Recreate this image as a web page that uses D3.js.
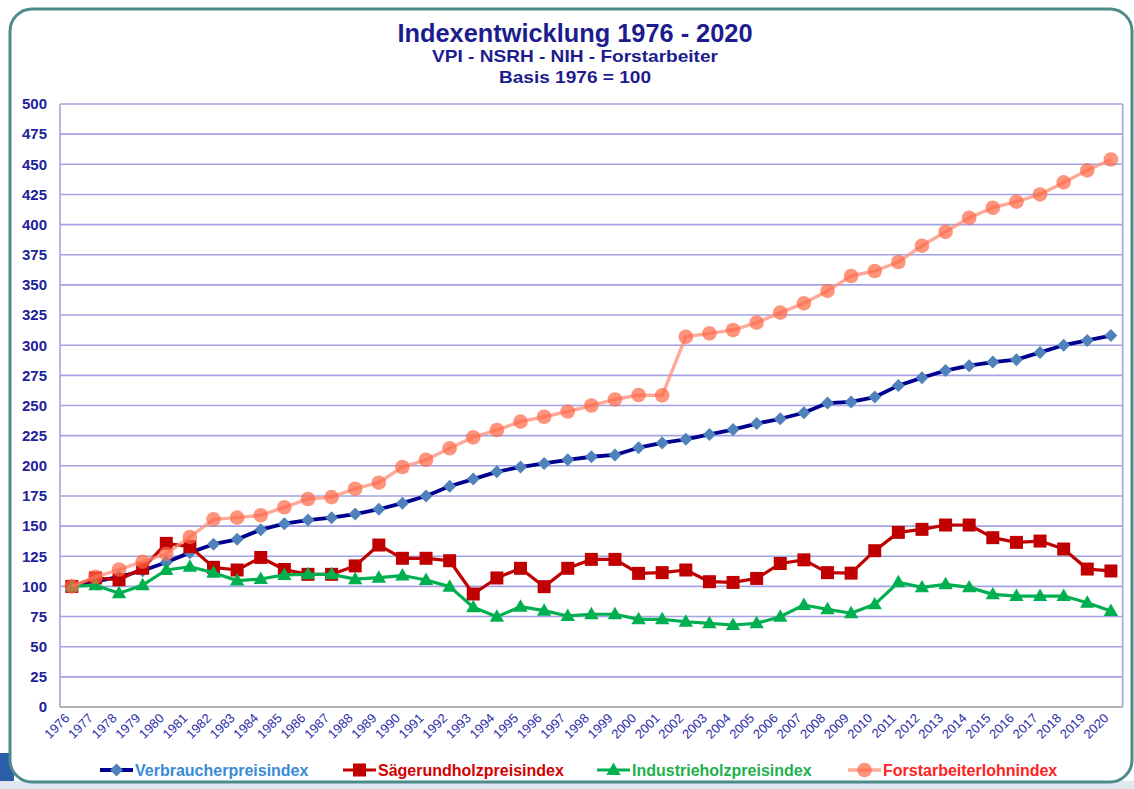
<!DOCTYPE html>
<html><head><meta charset="utf-8">
<script src="https://cdn.jsdelivr.net/npm/d3@7"></script>
<style>
html,body{margin:0;padding:0;background:#fff;}
svg{display:block;}
</style></head>
<body>
<script>
const years = d3.range(1976, 2021).map(String);
const vpi = [100,104,108,113,120,128,135,139,147,152,155,157,160,164,169,175,183,189,195,199,202,205,207.5,209,215,219,222,226,230,235,239,244,252,253,257,266.5,273,279,283,286,288,294,300,304,308];
const saege = [100,107,105.5,115,135.7,133,115.8,113.6,124,114,110,110,117,134.3,123.3,123.3,121.3,93.7,107,115,99.8,115,122.4,122.4,110.8,111.4,113.6,103.9,103.3,106.6,119,122,111.4,111,129.6,144.8,147.3,150.9,150.9,140.4,136.5,137.6,131,114.4,112.8];
const industrie = [100,101,94.3,101,113.6,116.3,111.4,104.8,106.1,109.5,110,110,106,107.2,109,105.3,99.8,82.7,74.9,83.2,79.9,75.5,76.9,76.9,72.7,72.7,70.7,69.4,68,69.4,74.9,84.6,81,77.7,85.1,103.4,99.2,101.7,99.2,93.4,92,92,92,86.5,79.6];
const forst = [100,108,114,120.5,127,141,155.6,157,159,165.6,172.5,174,181,186,199,205,214.5,223.6,229.7,236.6,240.7,245,250,255,258.7,258.4,307,309.8,312.6,318.7,327,334.7,345,357.4,361.5,369,382.5,394,405.7,414,419,425,435,445,454];
const yTicks = d3.range(0, 501, 25);
const seriesNames = ["Verbraucherpreisindex","Sägerundholzpreisindex","Industrieholzpreisindex","Forstarbeiterlohnindex"];

const W = 1134, H = 789;
const svg = d3.select("body").append("svg").attr("width", W).attr("height", H);

// slide background bits
svg.append("rect").attr("x",0).attr("y",0).attr("width",W).attr("height",H).attr("fill","#ffffff");
svg.append("rect").attr("x",0).attr("y",753).attr("width",14).attr("height",36).attr("fill","#2a5ea8");
svg.append("rect").attr("x",0).attr("y",781).attr("width",W).attr("height",8).attr("fill","#dfe7f1");
// frame
svg.append("rect").attr("x",10).attr("y",9).attr("width",1122).attr("height",773).attr("rx",22)
  .attr("fill","#ffffff").attr("stroke","#4d8a8a").attr("stroke-width",3);

const navy = "#1c1c8e";
const title = svg.append("g").attr("font-family","'Liberation Sans Narrow','Arial Narrow','Liberation Sans',Arial,sans-serif")
  .attr("font-weight","bold").attr("fill",navy).attr("text-anchor","middle");
title.append("text").attr("x",575).attr("y",42).attr("font-size",26).attr("textLength",355).attr("lengthAdjust","spacingAndGlyphs").text("Indexentwicklung 1976 - 2020");
title.append("text").attr("x",575).attr("y",62).attr("font-size",17).attr("textLength",286).attr("lengthAdjust","spacingAndGlyphs").text("VPI - NSRH - NIH - Forstarbeiter");
title.append("text").attr("x",575).attr("y",83).attr("font-size",17).attr("textLength",152).attr("lengthAdjust","spacingAndGlyphs").text("Basis 1976 = 100");

const x = d3.scalePoint().domain(years).range([60, 1122.7]).padding(0.5);
const y = d3.scaleLinear().domain([0, 500]).range([707, 104]);

const plot = svg.append("g");
// gridlines
plot.selectAll("line.grid").data(yTicks.filter(d => d > 0)).join("line")
  .attr("x1",60).attr("x2",1122.7).attr("y1",d=>y(d)).attr("y2",d=>y(d))
  .attr("stroke","#a3a3e3").attr("stroke-width",1.6);
plot.append("line").attr("x1",60).attr("x2",60).attr("y1",y(500)).attr("y2",y(0)).attr("stroke","#a3a3e3").attr("stroke-width",1.6);
plot.append("line").attr("x1",1122.7).attr("x2",1122.7).attr("y1",y(500)).attr("y2",y(0)).attr("stroke","#a3a3e3").attr("stroke-width",1.6);
plot.append("line").attr("x1",60).attr("x2",1122.7).attr("y1",y(0)).attr("y2",y(0)).attr("stroke","#999999").attr("stroke-width",1.6);

// y axis
const yAxis = d3.axisLeft(y).tickValues(yTicks).tickSize(0).tickPadding(13);
const ya = svg.append("g").attr("transform","translate(60,0)").call(yAxis);
ya.select(".domain").remove();
ya.selectAll("text").attr("font-family","'Liberation Sans',Arial,sans-serif").attr("font-weight","bold")
  .attr("font-size",15).attr("fill","#22229a");

// x axis
const xAxis = d3.axisBottom(x).tickSize(0).tickPadding(0);
const xa = svg.append("g").attr("transform","translate(0,707)").call(xAxis);
xa.select(".domain").remove();
xa.selectAll("text").attr("font-family","'Liberation Sans',Arial,sans-serif").attr("font-size",13)
  .attr("fill","#2e2eaa").attr("text-anchor","end").attr("dy",0)
  .attr("transform","translate(-2,12) rotate(-45)");

// marker shapes
function diamond(s){return `M0,${-s}L${s},0L0,${s}L${-s},0Z`;}
function square(s){return `M${-s},${-s}H${s}V${s}H${-s}Z`;}
function triangle(s){const h=s*1.732; return `M0,${-h*0.6}L${s},${h*0.4}L${-s},${h*0.4}Z`;}

const series = [
  {name:seriesNames[0], values:vpi, line:"#00008f", lw:3.8, lop:1, mcol:"#4f81bd", mop:1, shape:"d", text:"#3a8ad6"},
  {name:seriesNames[1], values:saege, line:"#c00000", lw:3.2, lop:1, mcol:"#c00000", mop:1, shape:"s", text:"#d40000"},
  {name:seriesNames[2], values:industrie, line:"#00b050", lw:3.2, lop:1, mcol:"#00b050", mop:1, shape:"t", text:"#22b04c"},
  {name:seriesNames[3], values:forst, line:"#ff8c78", lw:3.4, lop:0.75, mcol:"#ff6646", mop:0.7, shape:"c", text:"#ff2222"}
];

function drawMarker(g, shape, col, op){
  if (shape==="c") return g.append("circle").attr("r",7.3).attr("fill",col).attr("fill-opacity",op);
  const p = shape==="d"?diamond(6.5): shape==="s"?square(6.5):triangle(7.2);
  return g.append("path").attr("d",p).attr("fill",col).attr("fill-opacity",op);
}

const line = d3.line().x((d,i)=>x(years[i])).y(d=>y(d));
series.forEach(s=>{
  const g = svg.append("g");
  g.append("path").attr("d",line(s.values)).attr("fill","none").attr("stroke",s.line)
    .attr("stroke-width",s.lw).attr("stroke-opacity",s.lop).attr("stroke-linejoin","round");
  s.values.forEach((v,i)=>{
    const m = g.append("g").attr("transform",`translate(${x(years[i])},${y(v)})`);
    drawMarker(m, s.shape, s.mcol, s.mop);
  });
});

// legend
const legX = [100, 343, 597, 848];
series.forEach((s,i)=>{
  const g = svg.append("g").attr("transform",`translate(${legX[i]},770)`);
  g.append("line").attr("x1",0).attr("x2",33).attr("y1",0).attr("y2",0).attr("stroke",s.line).attr("stroke-width",s.lw).attr("stroke-opacity",s.lop);
  const m = g.append("g").attr("transform","translate(16.5,0)");
  drawMarker(m, s.shape, s.mcol, s.mop);
  g.append("text").attr("x",35).attr("y",6).attr("font-family","'Liberation Sans',Arial,sans-serif")
    .attr("font-weight","bold").attr("font-size",16).attr("fill",s.text).text(s.name);
});
</script>
</body></html>
